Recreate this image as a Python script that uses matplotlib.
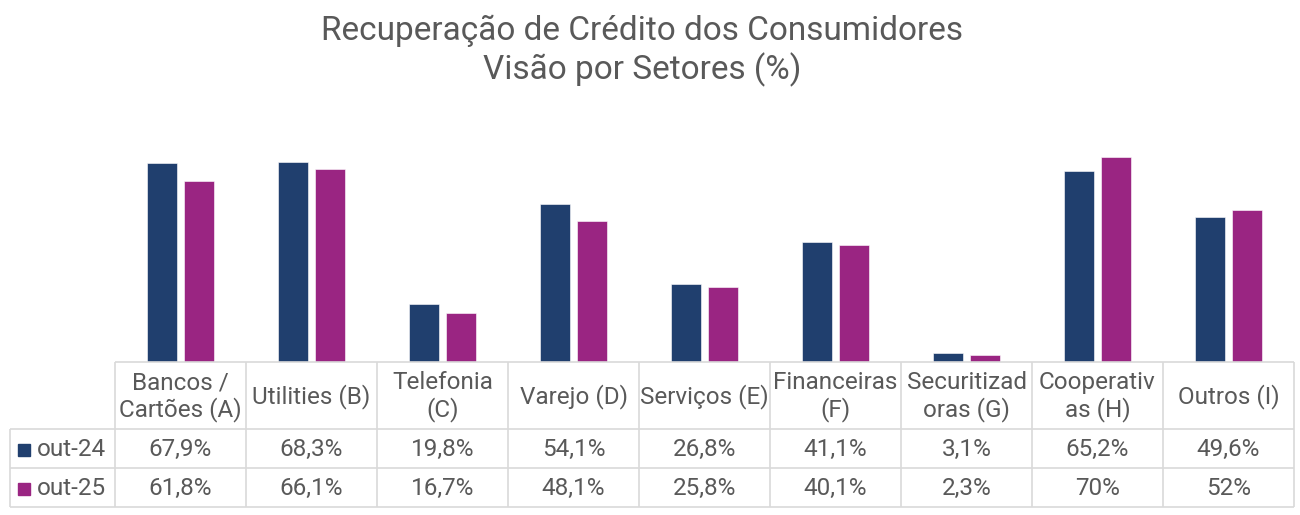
import numpy as np
import matplotlib
matplotlib.use("Agg")
from matplotlib import pyplot as plt

plt.rcParams['font.family'] = ['Roboto', 'DejaVu Sans']

setores = ['Bancos /\nCartões (A)', 'Utilities (B)', 'Telefonia\n(C)', 'Varejo (D)',
           'Serviços (E)', 'Financeiras\n(F)', 'Securitizad\noras (G)', 'Cooperativ\nas (H)',
           'Outros (I)']
series = ['out-24', 'out-25']
out24 = [67.9, 68.3, 19.8, 54.1, 26.8, 41.1, 3.1, 65.2, 49.6]
out25 = [61.8, 66.1, 16.7, 48.1, 25.8, 40.1, 2.3, 70, 52]
rotulos24 = ['67,9%', '68,3%', '19,8%', '54,1%', '26,8%', '41,1%', '3,1%', '65,2%', '49,6%']
rotulos25 = ['61,8%', '66,1%', '16,7%', '48,1%', '25,8%', '40,1%', '2,3%', '70%', '52%']

cores = ['#203F6E', '#9A2582']
cinza = '#595959'
grade = '#D9D9D9'

W, H = 1300, 515
fig = plt.figure(figsize=(13, 5.15), dpi=100)

# titulo
fig.text(642 / W, 1 - 51 / H, 'Recuperação de Crédito dos Consumidores\nVisão por Setores (%)',
         ha='center', va='center', fontsize=24, color=cinza, linespacing=1.22)

# barras
col_w = 131
left, right = 115, 1294
base, topo = 362, 128
ax = fig.add_axes([left / W, 1 - base / H, (right - left) / W, (base - topo) / H])
x = np.arange(len(setores))
larg = 0.225
ax.bar(x - 0.142, out24, larg, color=cores[0], edgecolor='white', linewidth=0.4)
ax.bar(x + 0.142, out25, larg, color=cores[1], edgecolor='white', linewidth=0.4)
ax.set_xlim(-0.5, len(setores) - 0.5)
ax.set_ylim(0, 80)
ax.axis('off')

# tabela de dados
lab_w = 105
tleft, tbottom = left - lab_w, 507
tab = fig.add_axes([tleft / W, 1 - tbottom / H, (right - tleft) / W, (tbottom - base) / H])
x0 = -0.5 - lab_w / col_w
tab.set_xlim(x0, len(setores) - 0.5)
tab.set_ylim(145, 0)
tab.axis('off')

linhas = [0, 67, 106, 145]
kw = dict(color=grade, lw=1.2, solid_capstyle='butt', clip_on=False)
tab.plot([-0.5, len(setores) - 0.5], [linhas[0]] * 2, **kw)
for yl in linhas[1:]:
    tab.plot([x0, len(setores) - 0.5], [yl] * 2, **kw)
tab.plot([x0, x0], [linhas[1], linhas[3]], **kw)
for xb in np.arange(len(setores) + 1) - 0.5:
    tab.plot([xb, xb], [linhas[0], linhas[3]], **kw)

fs = 17.5
for i, s in enumerate(setores):
    tab.text(i, (linhas[0] + linhas[1]) / 2 + 1, s, ha='center', va='center',
             fontsize=fs, color=cinza, linespacing=1.15)
for r, (nome, rot) in enumerate(zip(series, [rotulos24, rotulos25])):
    yc = (linhas[r + 1] + linhas[r + 2]) / 2
    for i, t in enumerate(rot):
        tab.text(i, yc + 1, t, ha='center', va='center', fontsize=fs, color=cinza)
    tab.plot([x0 + 14 / col_w], [yc + 1], marker='s', markersize=8.5, color=cores[r],
             clip_on=False)
    tab.text(x0 + 27 / col_w, yc + 1, nome, ha='left', va='center', fontsize=fs, color=cinza)

fig.savefig('out.png', dpi=100, facecolor='white')
